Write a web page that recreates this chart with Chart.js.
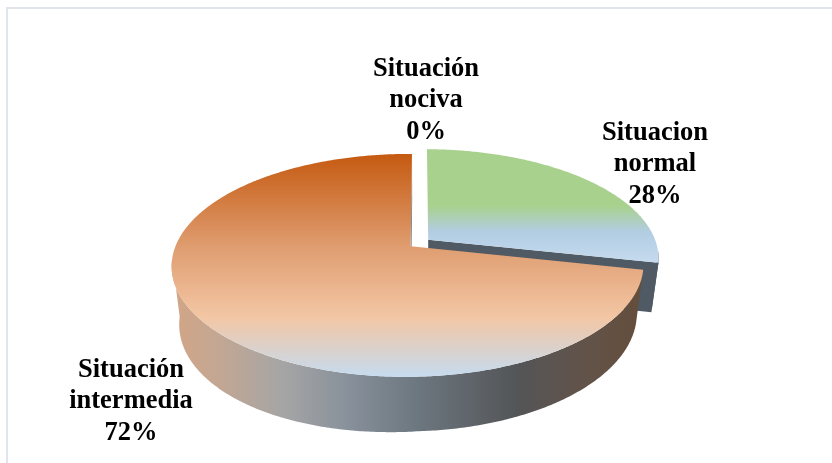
<!DOCTYPE html>
<html>
<head>
<meta charset="utf-8">
<script src="https://cdn.jsdelivr.net/npm/chart.js@4"></script>
<style>
  html, body { margin: 0; padding: 0; background: #fff; overflow: hidden; }
  #frame { position: absolute; left: 6px; top: 7px; width: 900px; height: 600px; border: 2px solid #e0e6eb; }
  #myChart { position: absolute; left: 0; top: 0; filter: blur(0.35px); }
</style>
</head>
<body>
<div id="frame"></div>
<canvas id="myChart" width="832" height="463"></canvas>
<script>
const categories = ['Situacion normal', 'Situación intermedia', 'Situación nociva'];
const percentages = [28.4, 71.6, 0];

// gradient stops per slice: [y or x on screen, colour]
const topStops = [
  [[149, '#a9d18e'], [206, '#a9d18e'], [232, '#b2cde3'], [262, '#c5daee']],
  [[154, '#c55a11'], [250, '#e09f73'], [317, '#f3c6a4'], [377, '#c5dbef']],
  [[149, '#c9c9c9'], [262, '#c9c9c9']]
];
const wallStops = [
  [[172, '#4f5a64'], [660, '#4f5a64']],
  [[176, '#d2a587'], [215, '#c4a792'], [283, '#a5a5a5'], [350, '#87909a'], [417, '#6d7780'], [517, '#535557'], [583, '#62534a'], [640, '#644e3c']],
  [[172, '#888888'], [660, '#888888']]
];

// label anchors (centre x, first line y)
const labelPos = [[655, 133], [131, 370], [426, 69]];
const labelLine = 31.5;

// camera for the tilted pie: plane centre on screen, spread, perspective, wall depth
const view = { cx: 419.5, cy: 243, ax: 231, ay: 107, p: 0.17, r: 0.012, q: 0.03, depth: 50.7, leftDrop: 0.15 };

function project(u, v, z) {
  const w = 1 - view.p * v + view.r * u + view.q * z;
  const drop = view.depth * z * (1 + view.leftDrop * Math.max(0, -u));
  return [view.cx + view.ax * u / w, view.cy + (view.ay * v + drop) / w];
}

function gradient(ctx, stops, vertical) {
  const a = stops[0][0], b = stops[stops.length - 1][0];
  const g = vertical ? ctx.createLinearGradient(0, a, 0, b) : ctx.createLinearGradient(a, 0, b, 0);
  stops.forEach(s => g.addColorStop((s[0] - a) / (b - a), s[1]));
  return g;
}

// points along the rim of an arc element, in plane units
function rim(arc, from, to) {
  const d = arc.options.offset / arc.outerRadius;
  const mid = (arc.startAngle + arc.endAngle) / 2;
  const ox = Math.cos(mid) * d, oy = Math.sin(mid) * d;
  const pts = [];
  const n = Math.max(2, Math.ceil((to - from) / 0.01));
  for (let i = 0; i <= n; i++) {
    const a = from + (to - from) * i / n;
    pts.push([ox + Math.cos(a), oy + Math.sin(a)]);
  }
  return { pts, ox, oy };
}

function fillPoly(ctx, pts, style) {
  ctx.beginPath();
  pts.forEach((p, i) => i ? ctx.lineTo(p[0], p[1]) : ctx.moveTo(p[0], p[1]));
  ctx.closePath();
  ctx.fillStyle = style;
  ctx.fill();
}

function drawSlice(ctx, arc, i) {
  if (arc.endAngle - arc.startAngle < 1e-4) return;
  const { pts, ox, oy } = rim(arc, arc.startAngle, arc.endAngle);
  const wall = gradient(ctx, wallStops[i], false);
  const last = pts[pts.length - 1];

  // cut face at the end of the slice
  fillPoly(ctx, [project(ox, oy, 0), project(last[0], last[1], 0), project(last[0], last[1], 1), project(ox, oy, 1)], wall);

  // outer wall, only the part turned towards the viewer
  const front = pts.filter(p => p[1] - oy >= 0.1);
  if (front.length > 1) {
    const upper = front.map(p => project(p[0], p[1], 0));
    const lower = front.map(p => project(p[0], p[1], 1)).reverse();
    fillPoly(ctx, upper.concat(lower), wall);
  }

  // top surface
  const top = [project(ox, oy, 0)].concat(pts.map(p => project(p[0], p[1], 0)));
  fillPoly(ctx, top, gradient(ctx, topStops[i], true));
}

const pie3d = {
  id: 'pie3d',
  beforeDatasetsDraw(chart) {
    const { ctx } = chart;
    const arcs = chart.getDatasetMeta(0).data;
    ctx.save();
    arcs.forEach((arc, i) => drawSlice(ctx, arc, i));

    ctx.fillStyle = '#000';
    ctx.font = 'bold 26.5px "Liberation Serif", serif';
    ctx.textAlign = 'center';
    ctx.textBaseline = 'middle';
    categories.forEach((name, i) => {
      const cut = name.indexOf(' ');
      const lines = [name.slice(0, cut), name.slice(cut + 1), Math.round(percentages[i]) + '%'];
      lines.forEach((line, k) => ctx.fillText(line, labelPos[i][0], labelPos[i][1] + k * labelLine));
    });
    ctx.restore();
    return false;
  }
};

const config = {
  type: 'pie',
  data: {
    labels: categories,
    datasets: [{
      data: percentages,
      backgroundColor: ['#a9d18e', '#f4b183', '#c9c9c9'],
      borderWidth: 0,
      offset: 11
    }]
  },
  options: {
    responsive: false,
    animation: false,
    rotation: 0,
    plugins: {
      legend: { display: false },
      tooltip: { enabled: false }
    }
  },
  plugins: [pie3d]
};

const myChart = new Chart(document.getElementById('myChart'), config);
</script>
</body>
</html>
